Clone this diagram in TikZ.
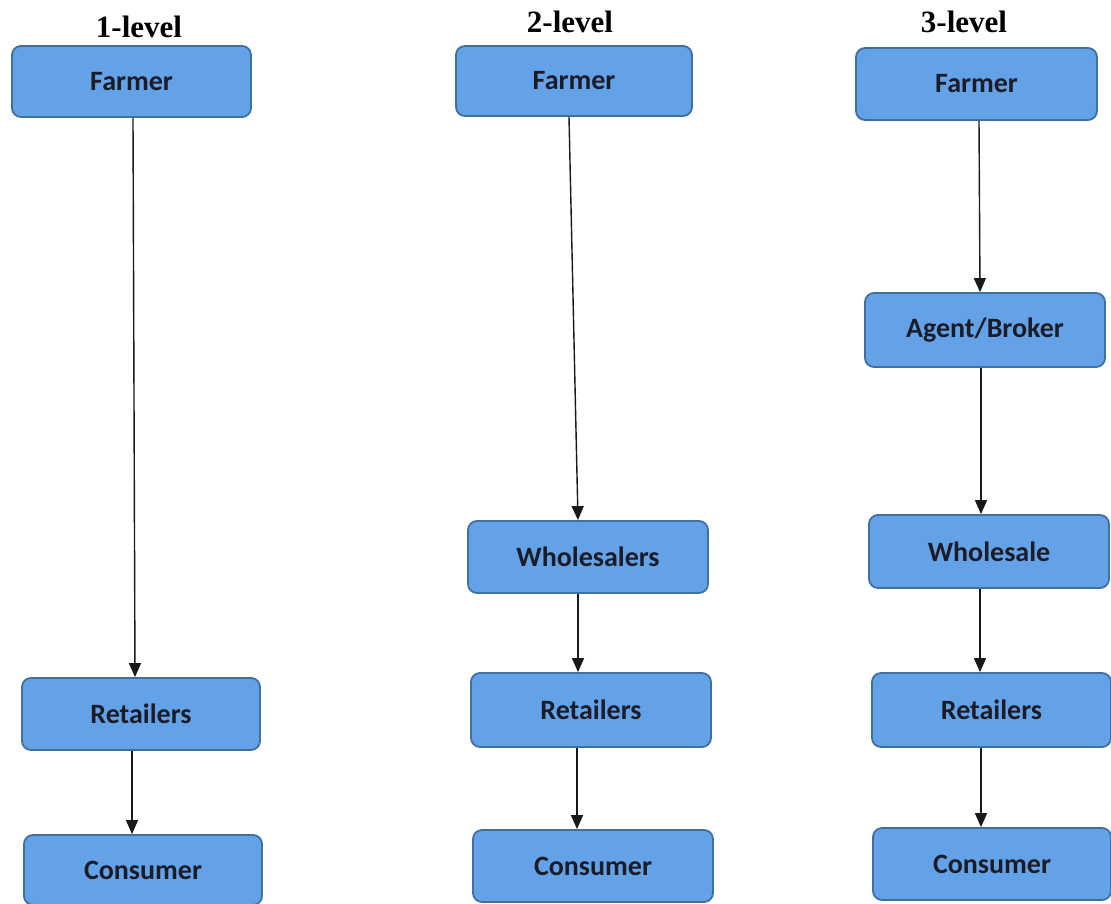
\documentclass[tikz,border=0pt]{standalone}
\usepackage{fontspec}
\setmainfont{Liberation Serif}
\newfontfamily\boxfont{Carlito}
\usetikzlibrary{arrows.meta}
\definecolor{boxfill}{HTML}{64A2E8}
\definecolor{boxline}{HTML}{41709E}
\definecolor{boxtext}{HTML}{1C1C28}
\tikzset{
  stagebox/.style={draw=boxline, line width=1.8pt, fill=boxfill, rounded corners=9pt,
    inner sep=0pt, text=boxtext, font=\boxfont\bfseries\fontsize{28}{32}\selectfont},
  leveltitle/.style={inner sep=0pt, font=\bfseries\fontsize{31}{36}\selectfont},
  flow/.style={line width=1.4pt, draw=black!90, -{Triangle[width=12pt,length=14pt]}}
}
\begin{document}
\begin{tikzpicture}[x=1pt,y=-1pt]
\useasboundingbox[fill=white] (0,0) rectangle (1111,903);
% titles
\node[leveltitle] (t1) at (139,27) {1-level};
\node[leveltitle] (t2) at (570,22) {2-level};
\node[leveltitle] (t3) at (964,22) {3-level};
% column 1
\node[stagebox, minimum width=239pt, minimum height=71pt] (f1) at (131.5,81.5) {Farmer};
\node[stagebox, minimum width=238pt, minimum height=72pt] (r1) at (141,714) {Retailers};
\node[stagebox, minimum width=238pt, minimum height=70pt] (c1) at (143,870) {Consumer};
% column 2
\node[stagebox, minimum width=236pt, minimum height=70pt] (f2) at (574,81) {Farmer};
\node[stagebox, minimum width=240pt, minimum height=72pt] (w2) at (588,557) {Wholesalers};
\node[stagebox, minimum width=240pt, minimum height=74pt] (r2) at (591,710) {Retailers};
\node[stagebox, minimum width=240pt, minimum height=72pt] (c2) at (593,866) {Consumer};
% column 3
\node[stagebox, minimum width=241pt, minimum height=72pt] (f3) at (976.5,84) {Farmer};
\node[stagebox, minimum width=240pt, minimum height=74pt] (a3) at (985,330) {Agent/Broker};
\node[stagebox, minimum width=240pt, minimum height=73pt] (w3) at (989,551.5) {Wholesale};
\node[stagebox, minimum width=239pt, minimum height=74pt] (r3) at (991.5,710) {Retailers};
\node[stagebox, minimum width=238pt, minimum height=72pt] (c3) at (992,864) {Consumer};
% connectors column 1
\draw[flow] ([xshift=1.5pt]f1.south) -- ([xshift=-6pt]r1.north);
\draw[flow] ([xshift=-9pt]r1.south) -- ([xshift=-11pt]c1.north);
% connectors column 2
\draw[flow] ([xshift=-5pt]f2.south) -- ([xshift=-10pt]w2.north);
\draw[flow] ([xshift=-10pt]w2.south) -- ([xshift=-13pt]r2.north);
\draw[flow] ([xshift=-14pt]r2.south) -- ([xshift=-16pt]c2.north);
% connectors column 3
\draw[flow] ([xshift=2.5pt]f3.south) -- ([xshift=-5pt]a3.north);
\draw[flow] ([xshift=-4pt]a3.south) -- ([xshift=-8pt]w3.north);
\draw[flow] ([xshift=-9pt]w3.south) -- ([xshift=-11.5pt]r3.north);
\draw[flow] ([xshift=-10.5pt]r3.south) -- ([xshift=-11pt]c3.north);
\end{tikzpicture}
\end{document}
